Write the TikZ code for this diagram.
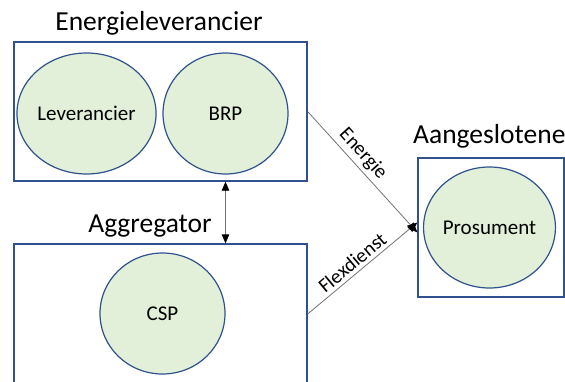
\documentclass[tikz,border=0pt]{standalone}
\usepackage{fontspec}
\setmainfont{Carlito}
\usetikzlibrary{arrows.meta,shapes.geometric}
\definecolor{frameblue}{HTML}{2F528F}
\definecolor{discgreen}{HTML}{E2F0D9}
\begin{document}
\begin{tikzpicture}[x=1pt,y=-1pt,
  group/.style={draw=frameblue, line width=1.3pt, rectangle, inner sep=0pt},
  role/.style={draw=frameblue, fill=discgreen, line width=1.2pt, ellipse, inner sep=0pt,
    minimum width=125pt, minimum height=121pt, font=\fontsize{21}{24}\selectfont},
  title/.style={font=\fontsize{27.5}{32}\selectfont, inner sep=0pt},
  flow/.style={draw=black!55, line width=0.8pt},
  tip/.style={-{Triangle[length=10pt,width=8pt,color=black]}},
  tips/.style={{Triangle[length=9pt,width=7.5pt,color=black]}-{Triangle[length=9pt,width=7.5pt,color=black]}},
  flowlabel/.style={font=\fontsize{20}{23}\selectfont, sloped, inner sep=2pt},
]
\clip (0,0) rectangle (565,381);
\useasboundingbox (0,0) rectangle (565,381);

% groups
\node[group, minimum width=293pt, minimum height=139pt] (supplier) at (160.5,111.5) {};
\node[group, minimum width=293pt, minimum height=140pt] (aggregator) at (160.5,314) {};
\node[group, minimum width=146pt, minimum height=139pt] (connected) at (491,227.5) {};

% group titles
\node[title] (supplierT) at (159,23) {Energieleverancier};
\node[title] (aggregatorT) at (150,226) {Aggregator};
\node[title, anchor=west] (connectedT) at (413,136) {Aangeslotene};

% roles
\node[role] (lev) at (86.5,113.5) {Leverancier};
\node[role] (brp) at (225.5,113.5) {BRP};
\node[role] (csp) at (162.5,313.5) {CSP};
\node[role] (pros) at (489.5,227.5) {Prosument};

% connectors
\draw[flow, tips] (brp.center |- supplier.south) -- (brp.center |- aggregator.north);
\draw[flow, tip] (supplier.east) -- node[flowlabel, pos=0.42, above=1.5pt] {Energie} ([yshift=-5pt]connected.west);
\draw[flow, tip] (aggregator.east) -- node[flowlabel, pos=0.47, above=1.5pt] {Flexdienst} ([yshift=5pt]connected.west);
\end{tikzpicture}
\end{document}
